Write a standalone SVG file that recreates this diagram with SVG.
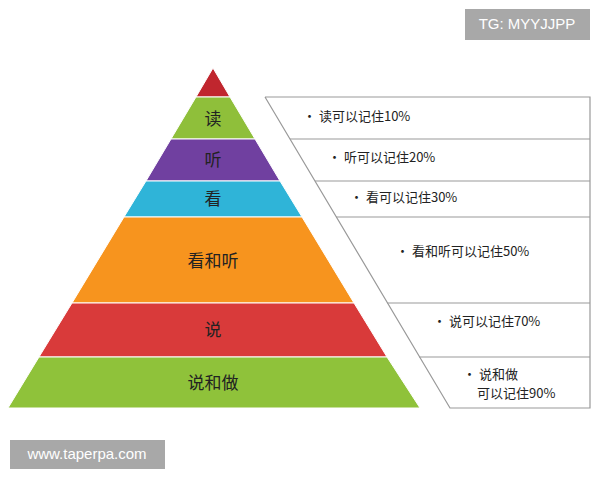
<svg xmlns="http://www.w3.org/2000/svg" width="600" height="480" viewBox="0 0 600 480">
<style>
.lbl{font-family:"Noto Sans CJK SC",sans-serif;font-size:17px;fill:#222;text-anchor:middle;dominant-baseline:middle}
.t{font-family:"Noto Sans CJK SC",sans-serif;font-size:13px;fill:#222;dominant-baseline:middle}
.ln{stroke:#999;stroke-width:1.2;fill:none}
.band{stroke:#fff;stroke-width:1}
</style>
<rect width="600" height="480" fill="#fff"/>
<g id="pyramid">
<polygon id="tip" class="band" fill="#c0262e" points="213,68 230,97 196,97"/>
<g id="n1"><polygon class="band" fill="#8fbf3a" points="196,97 230,97 255,139 171,139"/><text class="lbl" x="213" y="120">读</text></g>
<g id="n2"><polygon class="band" fill="#7040a0" points="171,139 255,139 280,181 146,181"/><text class="lbl" x="213" y="161">听</text></g>
<g id="n3"><polygon class="band" fill="#2fb4d8" points="146,181 280,181 302,217 124,217"/><text class="lbl" x="213" y="200">看</text></g>
<g id="n4"><polygon class="band" fill="#f7941e" points="124,217 302,217 354,303 72,303"/><text class="lbl" x="213" y="262">看和听</text></g>
<g id="n5"><polygon class="band" fill="#d93a3a" points="72,303 354,303 387,357 39,357"/><text class="lbl" x="213" y="331">说</text></g>
<g id="n6"><polygon class="band" fill="#8fc23a" points="39,357 387,357 420,408 8,408"/><text class="lbl" x="213" y="384">说和做</text></g>
</g>
<g id="connectors">
<polyline class="ln" points="265,97 590,97 590,408 450,408 265,97"/>
<line class="ln" x1="290" y1="139" x2="590" y2="139"/>
<line class="ln" x1="315" y1="181" x2="590" y2="181"/>
<line class="ln" x1="336" y1="217" x2="590" y2="217"/>
<line class="ln" x1="387" y1="303" x2="590" y2="303"/>
<line class="ln" x1="419" y1="357" x2="590" y2="357"/>
</g>
<g id="notes">
<text class="t" x="303" y="117">• 读可以记住10%</text>
<text class="t" x="328" y="158">• 听可以记住20%</text>
<text class="t" x="350" y="198">• 看可以记住30%</text>
<text class="t" x="396" y="252">• 看和听可以记住50%</text>
<text class="t" x="433" y="322">• 说可以记住70%</text>
<text class="t" x="463" y="375">• 说和做</text>
<text class="t" x="477" y="394">可以记住90%</text>
</g>
<g id="wm1"><rect x="465" y="9" width="125" height="31" fill="#a8a8a8"/><text x="527" y="25" font-family="Liberation Sans,sans-serif" font-size="15" fill="#fff" text-anchor="middle" dominant-baseline="middle">TG: MYYJJPP</text></g>
<g id="wm2"><rect x="10" y="440" width="155" height="29" fill="#a8a8a8"/><text x="87" y="455" font-family="Liberation Sans,sans-serif" font-size="15" fill="#fff" text-anchor="middle" dominant-baseline="middle">www.taperpa.com</text></g>
</svg>
